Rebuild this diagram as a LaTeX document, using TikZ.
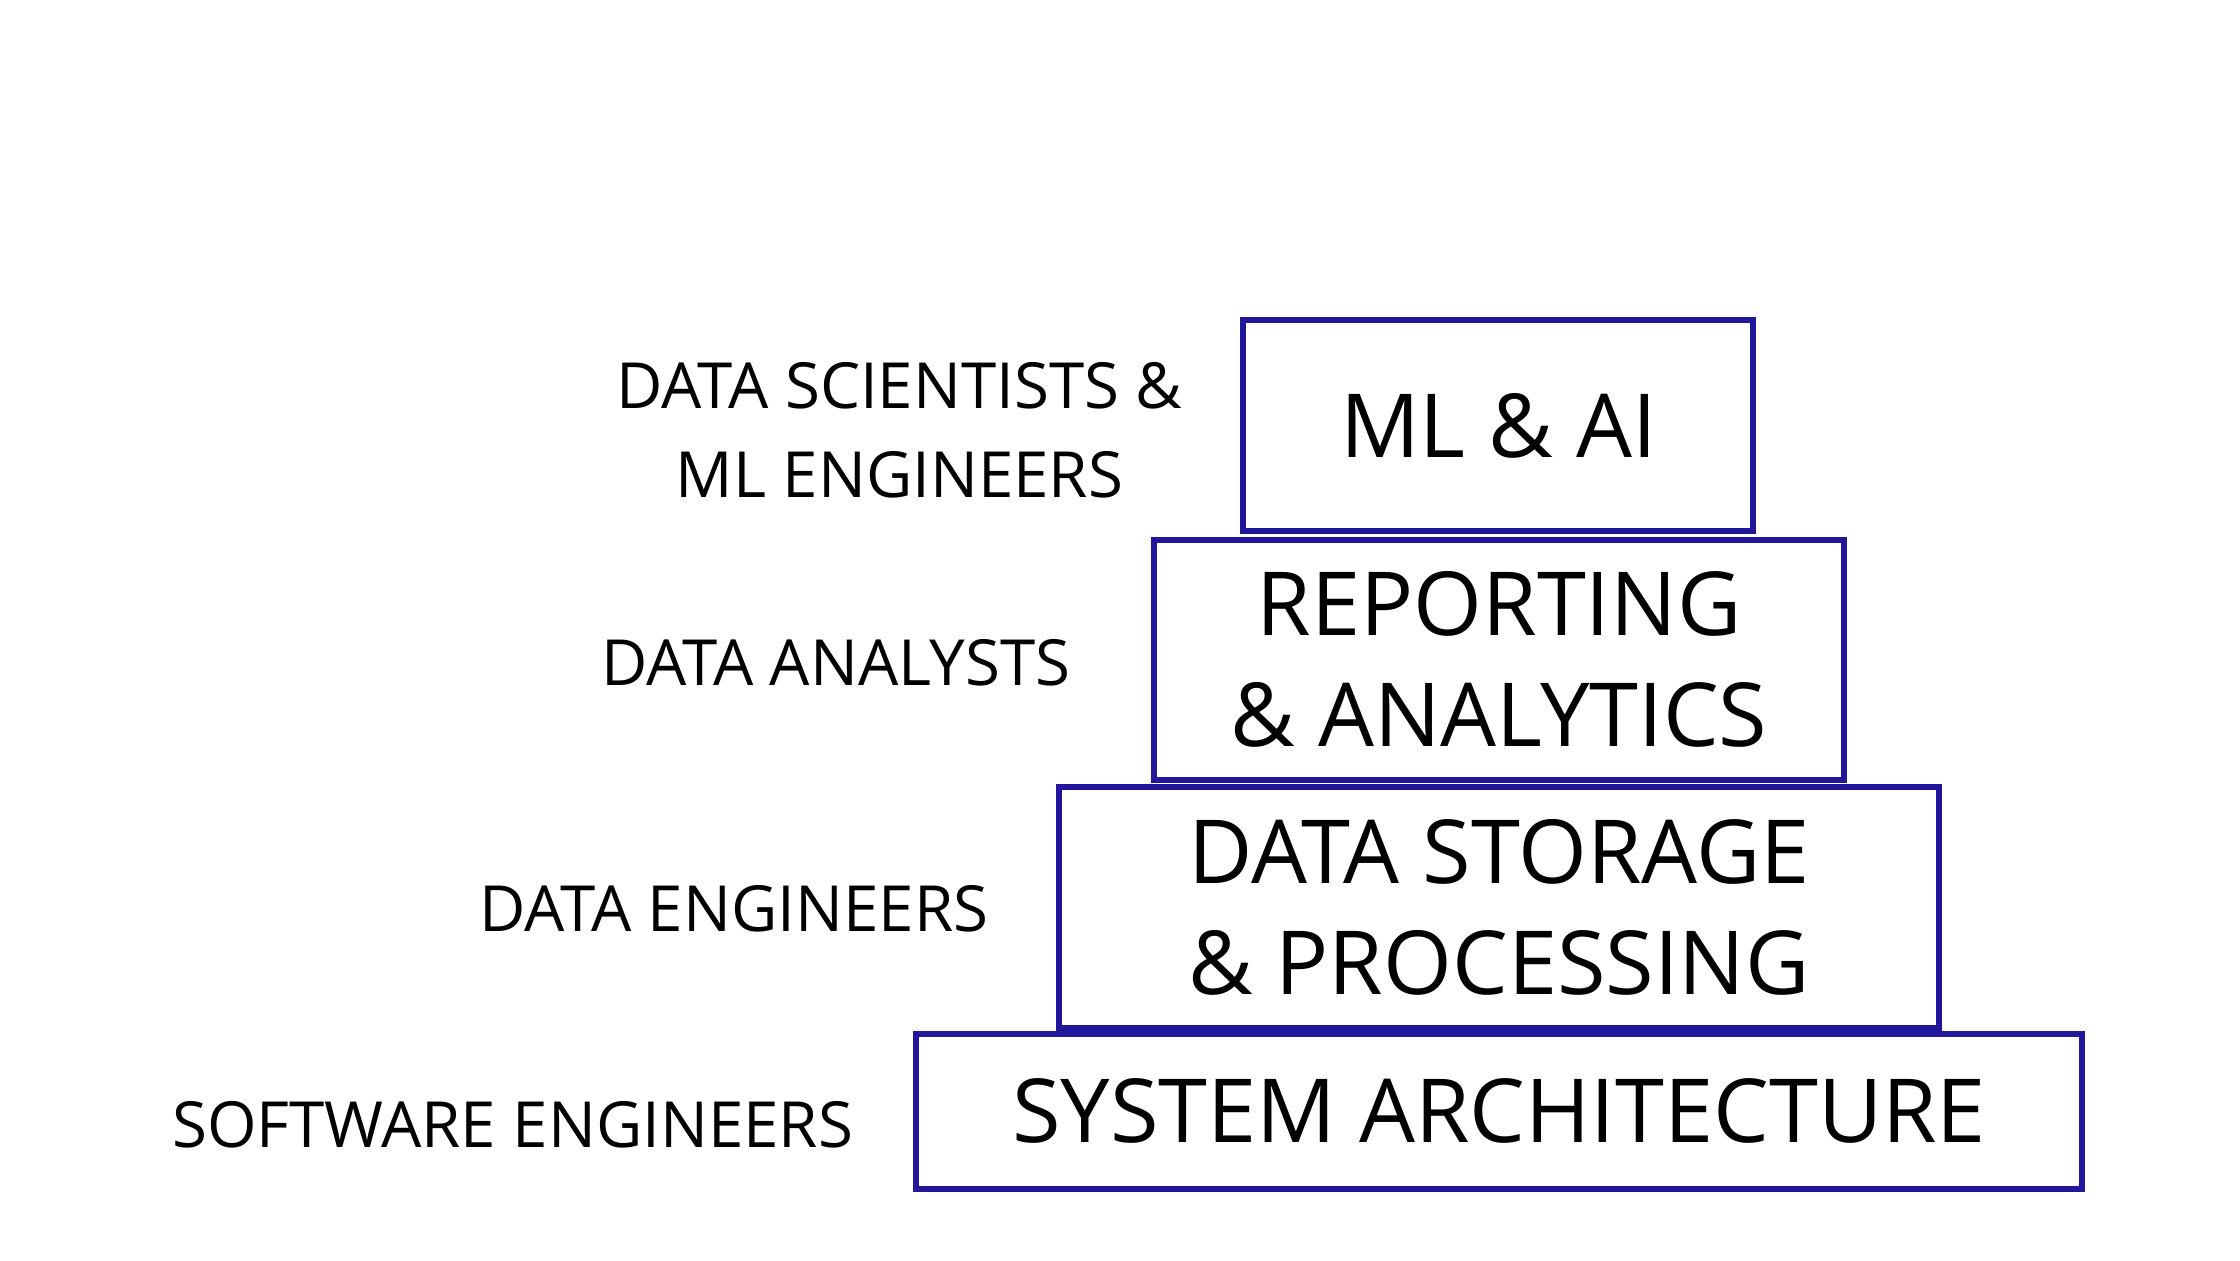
\documentclass[tikz,border=0pt]{standalone}
\usepackage{fontspec}
\setmainfont{Open Sans}
\usetikzlibrary{positioning}
\definecolor{tierblue}{HTML}{22179A}

\begin{document}
\begin{tikzpicture}[x=0.01cm, y=-0.01cm,
    tier/.style={draw=tierblue, line width=1.2pt, align=center, inner sep=0pt,
      font=\fontsize{17.5}{22}\selectfont},
    role/.style={anchor=east, align=center, font=\fontsize{12.6}{17.6}\selectfont}]
  \useasboundingbox (0,0) rectangle (1560,877.5);

  % the stacked tiers
  \node[tier, minimum width=355\pgflinewidth/1.2*0+3.55cm, minimum height=1.47cm] (mlai) at (1043.5,296.5) {ML \& AI};
  \node[tier, minimum width=4.8cm, minimum height=1.67cm] (report) at (1044,459.5) {REPORTING\\\& ANALYTICS};
  \node[tier, minimum width=6.12cm, minimum height=1.68cm] (storage) at (1044,632) {DATA STORAGE\\\& PROCESSING};
  \node[tier, minimum width=8.12cm, minimum height=1.08cm] (system) at (1044,774) {SYSTEM ARCHITECTURE};

  % who works on each tier
  \node[role, left=0.28cm of mlai.west, anchor=east, yshift=-0.03cm] {DATA SCIENTISTS \&\\ML ENGINEERS};
  \node[role, left=0.44cm of report.west, anchor=east, yshift=-0.02cm] {DATA ANALYSTS};
  \node[role, left=0.35cm of storage.west, anchor=east, yshift=-0.01cm] {DATA ENGINEERS};
  \node[role, left=0.29cm of system.west, anchor=east, yshift=-0.09cm] {SOFTWARE ENGINEERS};
\end{tikzpicture}
\end{document}
